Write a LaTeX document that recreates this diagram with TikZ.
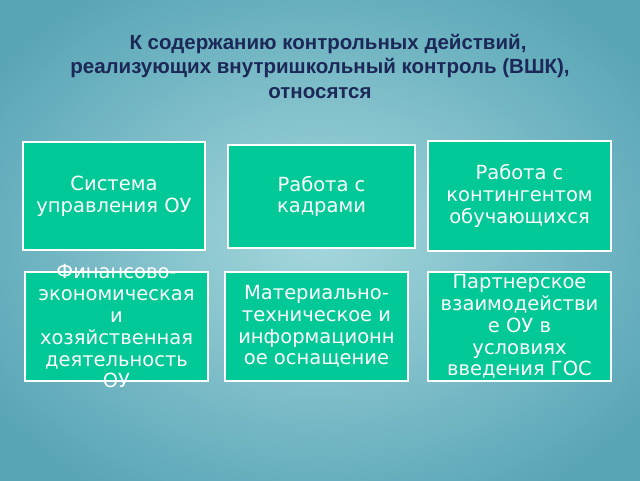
\documentclass[tikz,border=0pt]{standalone}
\usepackage{fontspec}
\setmainfont{DejaVu Sans}
\newfontfamily\titlefont{Liberation Sans}
\definecolor{boxgreen}{RGB}{0,200,150}
\definecolor{bgteal}{RGB}{88,165,182}
\definecolor{bglight}{RGB}{165,215,220}
\definecolor{titlenavy}{RGB}{28,40,88}
\tikzset{
  block/.style={draw=white,line width=1.5pt,fill=boxgreen,inner sep=0pt},
  blocktext/.style={text=white,align=center,font=\fontsize{19.5}{21.8}\selectfont}
}
\begin{document}
\begin{tikzpicture}[x=1pt,y=-1pt]
  % background
  \clip (0,0) rectangle (640,480);
  \fill[inner color=bglight,outer color=bgteal] (-80,-60) rectangle (720,540);

  \node[text=titlenavy,align=center,font=\titlefont\bfseries\fontsize{20.5}{24.5}\selectfont] (title) at (320,66)
    {\hspace*{16pt}К содержанию контрольных действий,\\реализующих внутришкольный контроль (ВШК),\\относятся};

  \begin{scope}[every node/.style=block]
    \node[minimum width=182,minimum height=108] (sys) at (114,196) {};
    \node[minimum width=187,minimum height=103] (kadr) at (321.5,196.5) {};
    \node[minimum width=183,minimum height=110] (kont) at (519.5,196) {};
    \node[minimum width=183,minimum height=109] (fin) at (116.5,326.5) {};
    \node[minimum width=183,minimum height=109] (mat) at (316.5,326.5) {};
    \node[minimum width=183,minimum height=109] (part) at (519.5,326.5) {};
  \end{scope}

  \begin{scope}[every node/.style=blocktext]
    \node (sysT) at (sys.center) {Система\\управления ОУ};
    \node (kadrT) at (kadr.center) {Работа с\\кадрами};
    \node (kontT) at (kont.center) {Работа с\\контингентом\\обучающихся};
    \node (finT) at (fin.center) {Финансово-\\экономическая\\и\\хозяйственная\\деятельность\\ОУ};
    \node (matT) at (mat.center) {Материально-\\техническое и\\информационн\\ое оснащение};
    \node (partT) at (part.center) {Партнерское\\взаимодействи\\е ОУ в\\условиях\\введения ГОС};
  \end{scope}
\end{tikzpicture}
\end{document}
